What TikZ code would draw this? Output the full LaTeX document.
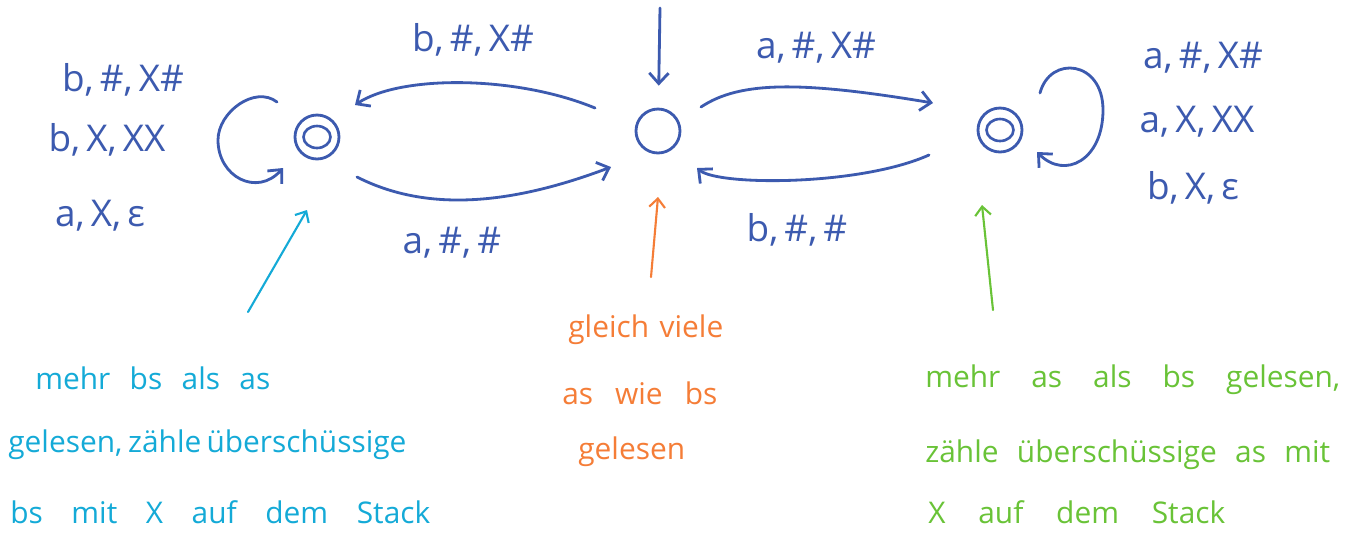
\documentclass[tikz,border=0pt]{standalone}
\usepackage{fontspec}
\setmainfont{Open Sans}
\usetikzlibrary{arrows.meta,calc}
\definecolor{pen}{RGB}{60,90,175}
\definecolor{cyanpen}{RGB}{20,170,215}
\definecolor{orangepen}{RGB}{245,125,55}
\definecolor{greenpen}{RGB}{105,195,55}
\begin{document}
\begin{tikzpicture}[x=0.02cm,y=-0.02cm,
  st/.style={circle,draw=pen,line width=1.6pt,minimum size=0.88cm,inner sep=0pt},
  inner/.style={draw=pen,line width=1.5pt},
  edge/.style={draw=pen,line width=1.6pt,line cap=round,-{Straight Barb[length=6pt,width=11pt,line width=1.6pt]}},
  ann/.style={line width=1.2pt,line cap=round,-{Straight Barb[length=5pt,width=9pt,line width=1.2pt]}},
  lab/.style={text=pen,font=\fontsize{21}{24}\selectfont,inner sep=0pt},
  desc/.style={font=\fontsize{17}{20}\selectfont,inner sep=0pt,anchor=west}]
\useasboundingbox (0,0) rectangle (1357,539);
\fill[white] (0,0) rectangle (1357,539);
% states
\node[st] (L) at (317,137) {};
\draw[inner] (L.center) ellipse[x radius=0.27cm,y radius=0.22cm];
\node[st] (M) at (658,131) {};
\node[st] (R) at (1000,130) {};
\draw[inner] (R.center) ellipse[x radius=0.27cm,y radius=0.22cm];
% initial arrow
\coordinate (init) at (660,8);
\draw[edge,shorten >=0.44cm] (init) -- (M);
% transitions
\draw[edge] ($(M.center)+(-63,-23)$) .. controls ($(M.center)+(-143,-56)$) and ($(L.center)+(83,-62)$) .. ($(L.center)+(38,-32)$);
\draw[edge] ($(L.center)+(40,40)$) .. controls ($(L.center)+(103,72)$) and ($(M.center)+(-158,78)$) .. ($(M.center)+(-47,36)$);
\draw[edge] ($(M.center)+(43,-24)$) .. controls ($(M.center)+(82,-50)$) and ($(R.center)+(-199,-49)$) .. ($(R.center)+(-67,-27)$);
\draw[edge] ($(R.center)+(-71,25)$) .. controls ($(R.center)+(-140,56)$) and ($(M.center)+(60,55)$) .. ($(M.center)+(39,37)$);
% loops
\draw[edge] ($(L.center)+(-40,-35)$) .. controls ($(L.center)+(-62,-52)$) and ($(L.center)+(-99,-25)$) .. ($(L.center)+(-99,3)$) .. controls ($(L.center)+(-99,40)$) and ($(L.center)+(-60,60)$) .. ($(L.center)+(-34,31)$);
\draw[edge] ($(R.center)+(40,-37)$) .. controls ($(R.center)+(50,-75)$) and ($(R.center)+(103,-70)$) .. ($(R.center)+(103,-20)$) .. controls ($(R.center)+(103,30)$) and ($(R.center)+(65,50)$) .. ($(R.center)+(37,22)$);
% edge labels
\node[lab] (tl) at (473,40) {b,\,\#,\,X\#};
\node[lab] (bl) at (452,243) {a,\,\#,\,\#};
\node[lab] (tr) at (816,48) {a,\,\#,\,X\#};
\node[lab] (br) at (797,230) {b,\,\#,\,\#};
\node[lab] (ll1) at (123,80) {b,\,\#,\,X\#};
\node[lab] (ll2) at (107,140) {b,\,X,\,XX};
\node[lab] (ll3) at (100,216) {a,\,X,\,ε};
\node[lab] (rl1) at (1203,58) {a,\,\#,\,X\#};
\node[lab] (rl2) at (1197,122) {a,\,X,\,XX};
\node[lab] (rl3) at (1193,188) {b,\,X,\,ε};
% annotations
\node[desc,text=cyanpen] (c1) at (35,378) {\makebox[4.7cm][s]{mehr bs als as}};
\node[desc,text=cyanpen] (c2) at (8,445) {\makebox[7.9cm][s]{gelesen, zähle überschüssige}};
\node[desc,text=cyanpen] (c3) at (10,512) {\makebox[8.4cm][s]{bs mit X auf dem Stack}};
\node[desc,text=orangepen] (o1) at (568,330) {\makebox[3.1cm][s]{gleich viele}};
\node[desc,text=orangepen] (o2) at (562,393) {\makebox[3.1cm][s]{as wie bs}};
\node[desc,text=orangepen] (o3) at (578,452) {gelesen};
\node[desc,text=greenpen] (g1) at (925,380) {\makebox[8.3cm][s]{mehr as als bs gelesen,}};
\node[desc,text=greenpen] (g2) at (925,455) {\makebox[8.1cm][s]{zähle überschüssige as mit}};
\node[desc,text=greenpen] (g3) at (928,512) {\makebox[5.94cm][s]{X auf dem Stack}};
\coordinate (ct) at (248,312);
\coordinate (ot) at (651,277);
\coordinate (gt) at (993,310);
\draw[ann,cyanpen] (ct) -- ($(L.center)+(-10,73)$);
\draw[ann,orangepen] (ot) -- ($(M.center)+(0,66)$);
\draw[ann,greenpen] (gt) -- ($(R.center)+(-18,75)$);
\end{tikzpicture}
\end{document}
